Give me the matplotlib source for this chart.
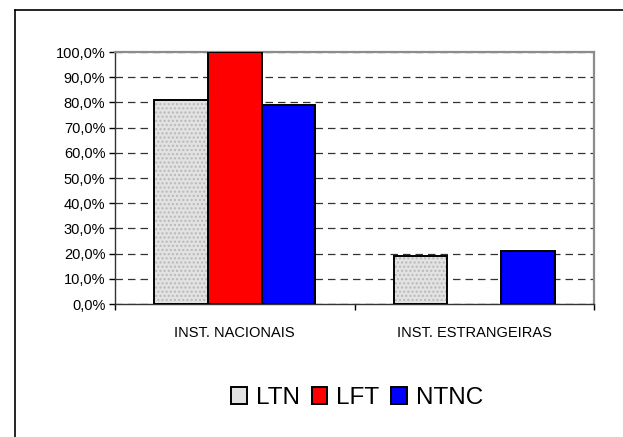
import matplotlib
matplotlib.use("Agg")
import matplotlib.pyplot as plt
import numpy as np
from matplotlib.patches import Patch
from matplotlib.lines import Line2D
from matplotlib.ticker import FuncFormatter, MultipleLocator

categories = ["INST. NACIONAIS", "INST. ESTRANGEIRAS"]
series_names = ["LTN", "LFT", "NTNC"]
ltn = [80.8, 19.0]
lft = [100.0, 0.0]
ntnc = [79.0, 21.0]
values = [ltn, lft, ntnc]
colors = ["#e2e2e2", "#ff0000", "#0000ff"]

plt.rcParams['font.family'] = ['Liberation Sans', 'DejaVu Sans']

fig = plt.figure(figsize=(6.23, 4.37), dpi=100)
ax = fig.add_axes([115/623, 1-304/437, (594-115)/623, (304-52)/437])

x = np.arange(len(categories))
w = 0.2234
for i, (vals, c) in enumerate(zip(values, colors)):
    pos = x + (i - 1) * w
    if i == 0:
        ax.bar(pos, vals, w, color=c, edgecolor="#b8b8b8", hatch="....", linewidth=0, zorder=3)
        ax.bar(pos, vals, w, facecolor="none", edgecolor="black", linewidth=1.4, zorder=4)
    else:
        nz = [v if v > 0 else np.nan for v in vals]
        ax.bar(pos, nz, w, color=c, edgecolor="black", linewidth=1.4, zorder=3)

ax.set_xlim(-0.5, 1.5)
ax.set_ylim(0, 100)
ax.yaxis.set_major_locator(MultipleLocator(10))
ax.yaxis.set_major_formatter(FuncFormatter(lambda v, p: f"{v:.1f}".replace(".", ",") + "%"))
ax.set_xticks(x)
ax.set_xticklabels(categories, fontsize=10.5)
ax.set_xticks([-0.5, 0.5, 1.5], minor=True)
ax.tick_params(axis="x", which="major", length=0, pad=16)
ax.tick_params(axis="x", which="minor", length=4, width=1, color="black")
ax.tick_params(axis="y", length=4, width=1, pad=3, labelsize=10.5)
ax.grid(axis="y", linestyle=(0, (6, 4)), color="#333333", linewidth=0.9, zorder=1)
ax.yaxis.get_gridlines()[-1].set_visible(False)

for s in ["top", "right"]:
    ax.spines[s].set_color("#8c8c8c")
    ax.spines[s].set_linewidth(1.6)
for s in ["left", "bottom"]:
    ax.spines[s].set_color("#333333")
    ax.spines[s].set_linewidth(1.0)

handles = [
    Patch(facecolor=colors[0], edgecolor="black", linewidth=1.4),
    Patch(facecolor=colors[1], edgecolor="black", linewidth=1.4),
    Patch(facecolor=colors[2], edgecolor="black", linewidth=1.4),
]
fig.legend(handles, series_names, loc="center", bbox_to_anchor=(357/623, 1-398/437),
           ncol=3, frameon=False, fontsize=17.5, handlelength=0.65, handleheight=0.65,
           handletextpad=0.35, columnspacing=0.5, borderpad=0)

fig.add_artist(Line2D([15/623, 1.0], [1-10/437, 1-10/437], color="black", linewidth=1.2, transform=fig.transFigure))
fig.add_artist(Line2D([15/623, 15/623], [0, 1-10/437], color="black", linewidth=1.2, transform=fig.transFigure))

fig.savefig("out.png", dpi=100)
